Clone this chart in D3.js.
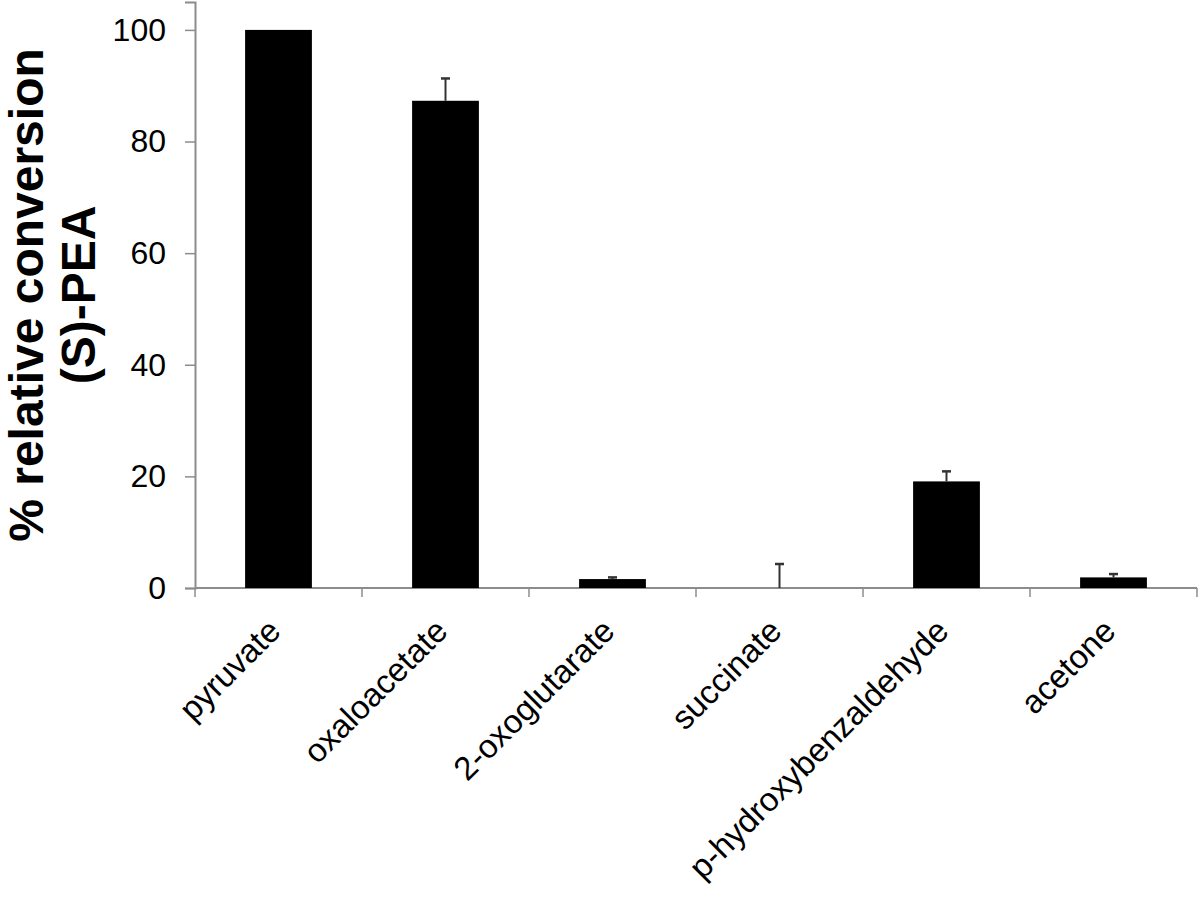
<!DOCTYPE html>
<html>
<head>
<meta charset="utf-8">
<script src="https://cdn.jsdelivr.net/npm/d3@7"></script>
<style>
  body { margin: 0; background: #fff; }
  svg { display: block; font-family: "Liberation Sans", Arial, sans-serif; }
</style>
</head>
<body>
<div id="chart"></div>
<script>
// data
var categories = ["pyruvate", "oxaloacetate", "2-oxoglutarate", "succinate", "p-hydroxybenzaldehyde", "acetone"];
var values = [100, 87.3, 1.6, 0, 19.1, 1.9];
var errors = [0, 4.0, 0.3, 4.3, 1.8, 0.6];
var yTicks = [0, 20, 40, 60, 80, 100];

var svgWidth = 1200;
var svgHeight = 898;
var margin = { top: 2, right: 3, bottom: 310, left: 195 };
var width = svgWidth - margin.left - margin.right;
var height = svgHeight - margin.top - margin.bottom;

var axisColor = "#8c8c8c";

var svg = d3.select("#chart")
  .append("svg")
  .attr("width", svgWidth)
  .attr("height", svgHeight);

var chartGroup = svg.append("g")
  .attr("transform", `translate(${margin.left}, ${margin.top})`);

var data = categories.map(function(c, i) {
  return { name: c, value: values[i], err: errors[i] };
});

// scales
var xScale = d3.scaleBand()
  .domain(categories)
  .range([0, width])
  .paddingInner(0.6)
  .paddingOuter(0.3);

var yScale = d3.scaleLinear()
  .domain([0, 105])
  .range([height, 0]);

// y axis
var yAxis = d3.axisLeft(yScale)
  .tickValues(yTicks)
  .tickSize(10)
  .tickPadding(19)
  .tickFormat(d3.format("d"));

var yAxisG = chartGroup.append("g").call(yAxis);
yAxisG.select(".domain").attr("stroke", axisColor).attr("stroke-width", 2);
yAxisG.selectAll(".tick line").attr("stroke", axisColor).attr("stroke-width", 1.5);
yAxisG.selectAll(".tick text")
  .attr("fill", "#000")
  .style("font-size", "32px")
  .style("font-family", "'Liberation Sans', Arial, sans-serif");

// x axis line + boundary ticks
chartGroup.append("line")
  .attr("x1", 0)
  .attr("x2", width)
  .attr("y1", height)
  .attr("y2", height)
  .attr("stroke", axisColor)
  .attr("stroke-width", 2);

var gap = (xScale.step() - xScale.bandwidth()) / 2;
var bounds = categories.map(function(c) { return xScale(c) - gap; }).concat([width]);
chartGroup.selectAll(".xtick")
  .data(bounds)
  .enter()
  .append("line")
  .attr("class", "xtick")
  .attr("x1", d => d)
  .attr("x2", d => d)
  .attr("y1", height)
  .attr("y2", height + 9)
  .attr("stroke", axisColor)
  .attr("stroke-width", 1.5);

// bars
chartGroup.selectAll(".bar")
  .data(data)
  .enter()
  .append("rect")
  .attr("class", "bar")
  .attr("x", d => xScale(d.name))
  .attr("width", xScale.bandwidth())
  .attr("y", d => yScale(d.value))
  .attr("height", d => height - yScale(d.value))
  .attr("fill", "#000");

// error bars (upper only)
var errData = data.filter(d => d.err > 0);
var cx = d => xScale(d.name) + xScale.bandwidth() / 2;

chartGroup.selectAll(".err")
  .data(errData)
  .enter()
  .append("line")
  .attr("class", "err")
  .attr("x1", cx)
  .attr("x2", cx)
  .attr("y1", d => yScale(d.value))
  .attr("y2", d => yScale(d.value + d.err))
  .attr("stroke", "#333")
  .attr("stroke-width", 2);

chartGroup.selectAll(".cap")
  .data(errData)
  .enter()
  .append("line")
  .attr("class", "cap")
  .attr("x1", d => cx(d) - 4.5)
  .attr("x2", d => cx(d) + 4.5)
  .attr("y1", d => yScale(d.value + d.err))
  .attr("y2", d => yScale(d.value + d.err))
  .attr("stroke", "#333")
  .attr("stroke-width", 2.5);

// category labels, rotated
chartGroup.selectAll(".xlabel")
  .data(data)
  .enter()
  .append("text")
  .attr("class", "xlabel")
  .attr("text-anchor", "end")
  .attr("transform", d => `translate(${cx(d) + 4}, ${height + 45}) rotate(-45)`)
  .style("font-size", "33px")
  .attr("fill", "#000")
  .text(d => d.name);

// y axis title (two lines)
var titleY = margin.top + height / 2;
var title = svg.append("text")
  .attr("transform", `translate(43, ${titleY}) rotate(-90)`)
  .attr("text-anchor", "middle")
  .style("font-size", "48px")
  .style("font-weight", "bold")
  .attr("fill", "#000");

title.append("tspan")
  .attr("x", 0)
  .attr("y", 0)
  .text("% relative conversion");

title.append("tspan")
  .attr("x", 0)
  .attr("y", 52)
  .text("(S)-PEA");
</script>
</body>
</html>
